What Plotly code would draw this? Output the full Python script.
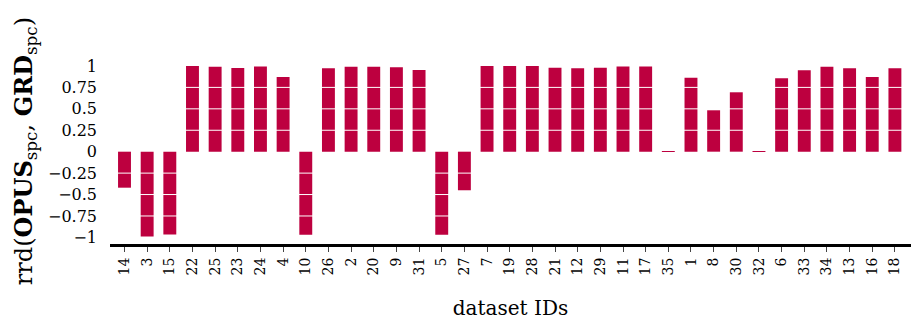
import plotly.graph_objects as go

# Dataset IDs in plotted order and their rrd values
dataset_ids = ["14", "3", "15", "22", "25", "23", "24", "4", "10", "26", "2", "20",
               "9", "31", "5", "27", "7", "19", "28", "21", "12", "29", "11", "17",
               "35", "1", "8", "30", "32", "6", "33", "34", "13", "16", "18"]
rrd_values = [-0.42, -0.99, -0.965, 1.0, 0.99, 0.977, 0.995, 0.87, -0.97, 0.973, 0.99, 0.99,
              0.985, 0.953, -0.97, -0.45, 1.0, 1.0, 1.0, 0.98, 0.973, 0.98, 0.995, 0.995,
              0.008, 0.863, 0.483, 0.693, 0.008, 0.856, 0.95, 0.99, 0.973, 0.87, 0.973]

y_tick_vals = [1, 0.75, 0.5, 0.25, 0, -0.25, -0.5, -0.75, -1]
y_tick_text = ["1", "0.75", "0.5", "0.25", "0", "\u22120.25", "\u22120.5", "\u22120.75", "\u22121"]
grid_vals = [0.75, 0.5, 0.25, -0.25, -0.5, -0.75]

BAR_COLOR = "#bd003f"
SERIF = "DejaVu Serif, Liberation Serif, serif"

fig = go.Figure(
    go.Bar(
        x=dataset_ids,
        y=rrd_values,
        marker=dict(color=BAR_COLOR, line=dict(width=0)),
        width=0.57,
    )
)

# white horizontal rules drawn across the bars
for v in grid_vals:
    fig.add_shape(type="line", xref="paper", x0=0, x1=1, yref="y", y0=v, y1=v,
                  line=dict(color="white", width=1), layer="above")

fig.update_layout(
    width=911, height=321,
    margin=dict(l=110, r=0, t=58, b=77),
    plot_bgcolor="white", paper_bgcolor="white",
    showlegend=False,
    font=dict(family=SERIF, color="black"),
    xaxis=dict(
        type="category",
        range=[-0.64, 34.71],
        showgrid=False,
        showline=True, linecolor="black", linewidth=3,
        ticks="outside", ticklen=5, tickwidth=1, tickcolor="#444",
        tickangle=-90,
        tickfont=dict(size=14, family=SERIF),
        title=dict(text="dataset IDs", font=dict(size=20, family=SERIF), standoff=27),
    ),
    yaxis=dict(
        range=[-1.077, 1.093],
        showgrid=False, zeroline=False, showline=False,
        tickvals=y_tick_vals, ticktext=y_tick_text,
        tickfont=dict(size=16, family=SERIF),
        ticklabelstandoff=12,
        title=dict(
            text="rrd(<b>OPUS</b><sub>spc</sub>, <b>GRD</b><sub>spc</sub>)",
            font=dict(size=24, family=SERIF),
            standoff=8,
        ),
    ),
)

fig.write_html("out.html")
